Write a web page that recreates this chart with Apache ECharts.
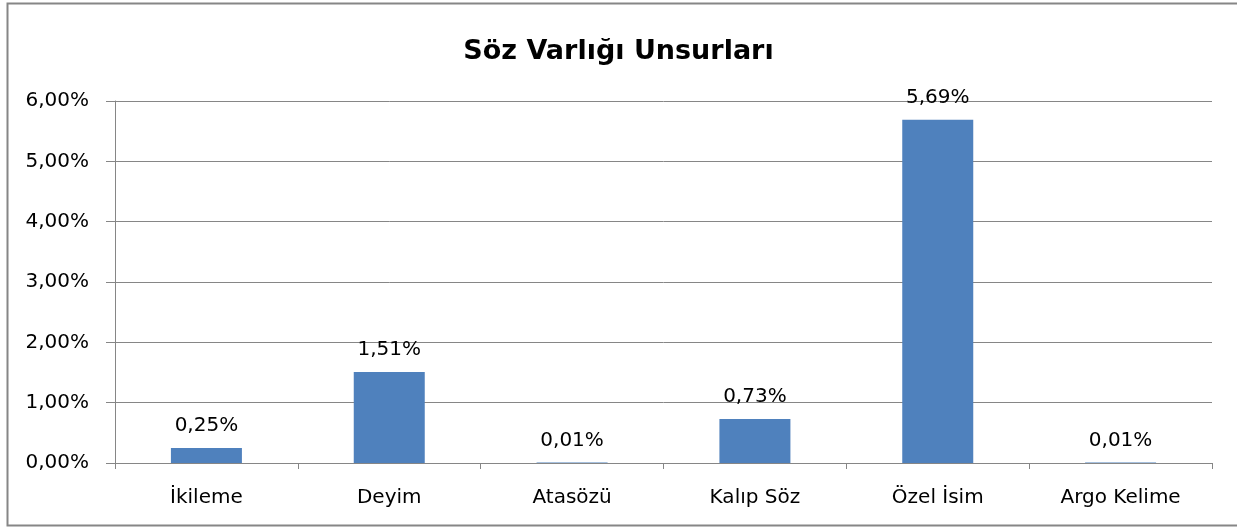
<!DOCTYPE html>
<html><head><meta charset="utf-8">
<script src="https://cdn.jsdelivr.net/npm/echarts@6/dist/echarts.min.js"></script>
<style>html,body{margin:0;padding:0;background:#fff}#c{width:1237px;height:530px}</style>
</head><body><div id="c"></div>
<script>
const categories = ['İkileme', 'Deyim', 'Atasözü', 'Kalıp Söz', 'Özel İsim', 'Argo Kelime'];
const values = [0.25, 1.51, 0.01, 0.73, 5.69, 0.01];
const yTicks = [0, 1, 2, 3, 4, 5, 6];
const title = 'Söz Varlığı Unsurları';

const fmt = v => v.toFixed(2).replace('.', ',') + '%';
const FONT = '"DejaVu Sans", sans-serif';
const chart = echarts.init(document.getElementById('c'), null, {renderer: 'canvas'});
chart.setOption({
  animation: false,
  backgroundColor: '#fff',
  title: {
    text: title, left: 'center', top: 33,
    textStyle: {fontFamily: FONT, fontSize: 27, fontWeight: 'bold', color: '#000'}
  },
  graphic: [{
    type: 'rect', shape: {x: 7.5, y: 3.5, width: 1240, height: 522},
    style: {fill: 'none', stroke: '#868686', lineWidth: 2}, silent: true
  }],
  grid: {left: 115, right: 25, top: 101, bottom: 67},
  xAxis: {
    type: 'category', data: categories,
    axisLine: {lineStyle: {color: '#868686', width: 1}},
    axisTick: {show: true, alignWithLabel: false, length: 6, lineStyle: {color: '#868686'}},
    axisLabel: {color: '#000', fontFamily: FONT, fontSize: 20, margin: 25}
  },
  yAxis: {
    type: 'value', min: yTicks[0], max: yTicks[yTicks.length - 1], interval: 1,
    axisLine: {show: true, lineStyle: {color: '#868686'}},
    axisTick: {show: true, inside: false, length: 9, lineStyle: {color: '#868686'}},
    splitLine: {lineStyle: {color: '#868686', width: 1}},
    axisLabel: {color: '#000', fontFamily: FONT, fontSize: 20, margin: 26, padding: [4, 0, 0, 0], formatter: fmt}
  },
  series: [{
    type: 'bar', data: values, barWidth: 71,
    itemStyle: {color: '#4F81BD'},
    label: {show: true, position: 'top', distance: 12, color: '#000', fontFamily: FONT, fontSize: 20, formatter: p => fmt(p.value)}
  }]
});
</script></body></html>
